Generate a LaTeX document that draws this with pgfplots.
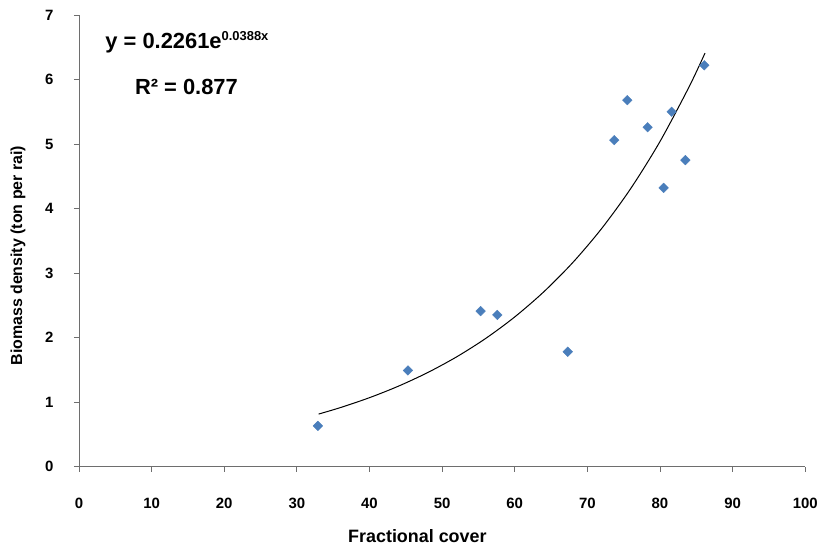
\documentclass[border=0pt]{standalone}
\usepackage{pgfplots}
\pgfplotsset{compat=1.18}
\usepackage{fontspec}
\setmainfont{Liberation Sans}
\definecolor{markblue}{HTML}{4A7EBB}
\definecolor{axisgray}{HTML}{6E6E6E}

\begin{document}
\begin{tikzpicture}
\begin{axis}[
  name=ax,
  scale only axis,
  width=727bp, height=452bp,
  xmin=0, xmax=100, ymin=0, ymax=7,
  xtick={0,10,...,100}, ytick={0,1,...,7},
  axis lines*=left,
  axis line style={axisgray, line width=0.8pt},
  tick style={axisgray, line width=0.8pt},
  tick align=outside,
  major tick length=5bp,
  xtick pos=bottom, ytick pos=left,
  clip=false,
  /pgf/number format/assume math mode=true,
  ticklabel style={font=\bfseries\fontsize{15}{17}\selectfont, black},
  xticklabel style={anchor=center, yshift=-32bp},
  yticklabel style={anchor=east, xshift=-17bp},
  xlabel={Fractional cover},
  xlabel style={font=\bfseries\fontsize{18}{20}\selectfont, at={(axis description cs:0.466,-0.1549)}, anchor=center},
  ylabel={Biomass density (ton per rai)},
  ylabel style={font=\bfseries\fontsize{16}{18}\selectfont, at={(axis description cs:-0.0839,0.467)}, anchor=center},
]
% observed samples
\addplot[only marks, mark=square*, mark size=3.4bp,
  mark options={rotate=45, fill=markblue, draw=markblue}]
  coordinates {
  (32.9,0.63) (45.3,1.49) (55.3,2.41) (57.6,2.35) (67.3,1.78)
  (73.7,5.06) (75.5,5.68) (78.3,5.26) (80.5,4.32) (81.6,5.50)
  (83.5,4.75) (86.1,6.22)
  };
% exponential trend line y = 0.2261 exp(0.0388 x)
\addplot[black, line width=1pt, smooth] coordinates {
  (33,0.8136) (36,0.9140) (40,1.0674) (44,1.2466) (48,1.4559)
  (52,1.7003) (56,1.9857) (60,2.3191) (64,2.7085) (68,3.1631)
  (72,3.6942) (76,4.3144) (80,5.0388) (84,5.8847) (86.2,6.4095)
  };
\node[font=\bfseries\fontsize{22}{24}\selectfont] at (axis cs:14.9,6.58)
  {y = 0.2261e\textsuperscript{\fontsize{13}{14}\selectfont 0.0388x}};
\node[font=\bfseries\fontsize{22}{24}\selectfont] at (axis cs:14.8,5.89)
  {R² = 0.877};
% page frame
\path (rel axis cs:-0.1087,-0.1792) rectangle (rel axis cs:1.0206,1.0332);
\end{axis}
\end{tikzpicture}
\end{document}
